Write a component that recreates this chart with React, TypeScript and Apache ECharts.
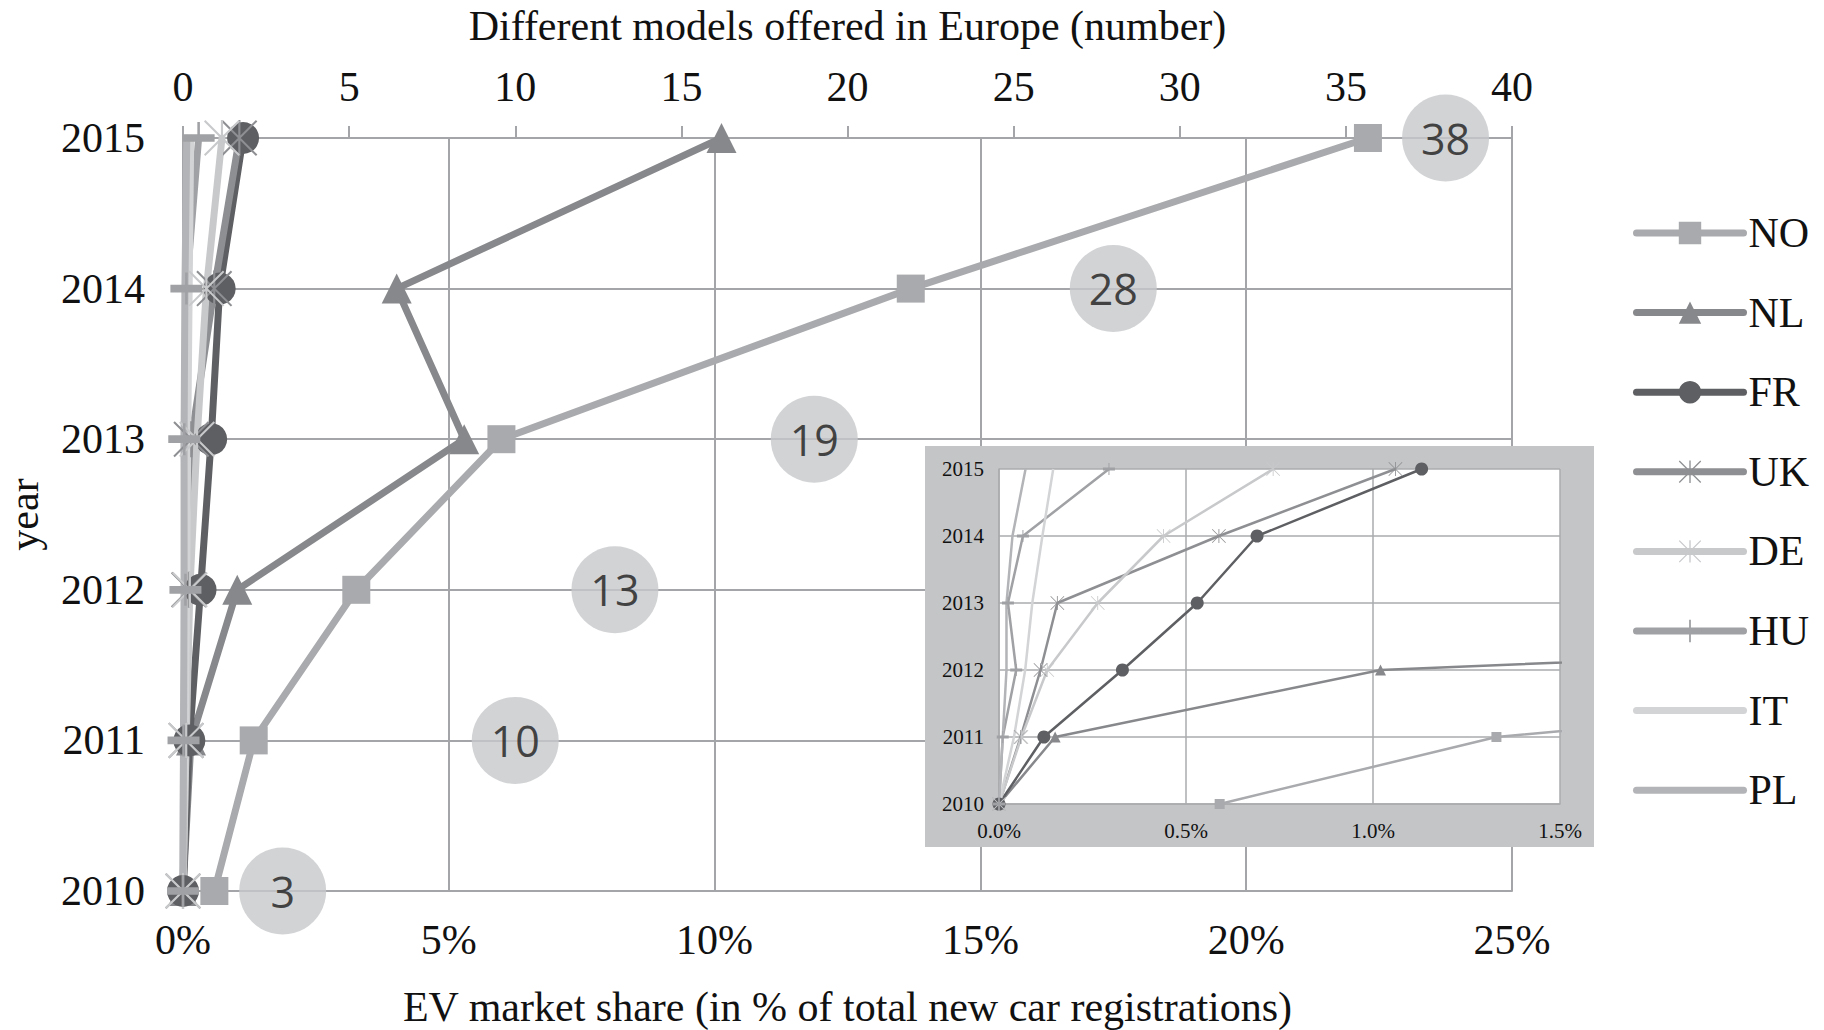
import React, { useEffect, useRef } from 'react';
import * as echarts from 'echarts';

const years = [2010, 2011, 2012, 2013, 2014, 2015];
const modelsOffered = [3, 10, 13, 19, 28, 38];
const shareNO = [0.59, 1.33, 3.26, 5.99, 13.69, 22.29];
const shareNL = [0.0, 0.15, 1.02, 5.29, 4.02, 10.13];
const shareFR = [0.0, 0.12, 0.33, 0.53, 0.69, 1.13];
const shareUK = [0.0, 0.058, 0.111, 0.156, 0.588, 1.06];
const shareDE = [0.0, 0.06, 0.129, 0.264, 0.44, 0.733];
const shareHU = [0.0, 0.01, 0.046, 0.024, 0.064, 0.294];
const shareIT = [0.0, 0.04, 0.07, 0.089, 0.116, 0.145];
const sharePL = [0.0, 0.01, 0.02, 0.02, 0.036, 0.071];

const ASTERISK = 'path://M0 4L4 0L100 96L96 100Z M96 0L100 4L4 100L0 96Z M47 0L53 0L53 100L47 100Z';
const PLUS = 'path://M46 0L54 0L54 38L100 38L100 62L54 62L54 100L46 100L46 62L0 62L0 38L46 38Z';

const serif = '"Liberation Serif", "Times New Roman", serif';
const gridColor = '#a4a5a8';
const insetGrid = '#aaabad';

const countries = [
  { name: 'NO', data: shareNO, color: '#a9aaad', symbol: 'rect', size: 28, insetSize: 10 },
  { name: 'NL', data: shareNL, color: '#87888b', symbol: 'triangle', size: 30, insetSize: 11 },
  { name: 'FR', data: shareFR, color: '#5e5f62', symbol: 'circle', size: 32, insetSize: 13 },
  { name: 'UK', data: shareUK, color: '#8e8f92', symbol: ASTERISK, size: 36, insetSize: 14 },
  { name: 'DE', data: shareDE, color: '#c8c9cb', symbol: ASTERISK, size: 36, insetSize: 14 },
  { name: 'HU', data: shareHU, color: '#a0a1a4', symbol: PLUS, size: 32, insetSize: 12 },
  { name: 'IT', data: shareIT, color: '#d3d4d6', symbol: 'none', size: 0, insetSize: 0 },
  { name: 'PL', data: sharePL, color: '#b3b4b7', symbol: 'none', size: 0, insetSize: 0 },
];

const toPoints = (vals: number[]) => years.map((y, i) => [vals[i], y]);

const mainSeries = countries.map((c) => ({
  name: c.name,
  type: 'line',
  xAxisIndex: 0,
  yAxisIndex: 0,
  data: toPoints(c.data),
  symbol: c.symbol,
  symbolSize: c.size,
  showSymbol: c.symbol !== 'none',
  lineStyle: { color: c.color, width: 7, cap: 'round', join: 'round' },
  itemStyle: { color: c.color },
  emphasis: { disabled: true },
  z: 3,
}));

const insetSeries = countries.map((c) => ({
  name: c.name,
  type: 'line',
  xAxisIndex: 2,
  yAxisIndex: 1,
  data: toPoints(c.data),
  symbol: c.symbol,
  symbolSize: c.insetSize,
  showSymbol: c.symbol !== 'none',
  lineStyle: { color: c.color, width: 2.5 },
  itemStyle: { color: c.color },
  emphasis: { disabled: true },
  clip: true,
  z: 53,
}));

const bubbleSeries = {
  name: 'models',
  type: 'scatter',
  xAxisIndex: 1,
  yAxisIndex: 0,
  data: years.map((y, i) => [modelsOffered[i], y]),
  symbolSize: 87,
  itemStyle: { color: '#c7c8ca' },
  label: {
    show: true,
    position: 'inside',
    formatter: (p: any) => String(p.value[0]),
    fontFamily: '"Open Sans", sans-serif',
    fontSize: 43,
    color: '#1a1a1a',
  },
  emphasis: { disabled: true },
  z: 2,
};

const mainLabel = { fontSize: 42, color: '#111', fontFamily: serif };

const option: any = {
  animation: false,
  backgroundColor: '#ffffff',
  textStyle: { fontFamily: serif },
  legend: {
    orient: 'vertical',
    left: 1628,
    top: 207,
    itemWidth: 107,
    itemHeight: 28,
    itemGap: 37.6,
    textStyle: { fontSize: 42, color: '#111', fontFamily: serif },
    lineStyle: { width: 7, cap: 'round' },
    data: countries.map((c) =>
      c.symbol === 'none' ? { name: c.name, itemStyle: { opacity: 0 } } : { name: c.name }
    ),
  },
  grid: [
    { left: 183, right: 312, top: 138, bottom: 139, outerBoundsMode: 'none', containLabel: false },
    {
      left: 999, top: 469, width: 561, height: 335, show: true, backgroundColor: '#ffffff', borderWidth: 0, z: 51,
      outerBoundsMode: 'none', containLabel: false,
    },
  ],
  graphic: [
    {
      type: 'rect',
      shape: { x: 925, y: 446, width: 669, height: 401 },
      style: { fill: '#c4c5c7' },
      z: 50,
      silent: true,
    },
  ],
  xAxis: [
    {
      gridIndex: 0,
      type: 'value',
      position: 'bottom',
      min: 0,
      max: 25,
      interval: 5,
      axisLabel: { ...mainLabel, formatter: (v: number) => v + '%', margin: 28 },
      axisLine: { show: true, lineStyle: { color: gridColor, width: 2 } },
      axisTick: { show: false },
      splitLine: { show: true, lineStyle: { color: gridColor, width: 2 } },
      name: 'EV market share (in % of total new car registrations)',
      nameLocation: 'middle',
      nameGap: 95,
      nameTextStyle: mainLabel,
    },
    {
      gridIndex: 0,
      type: 'value',
      position: 'top',
      min: 0,
      max: 40,
      interval: 5,
      axisLabel: { ...mainLabel, margin: 30 },
      axisLine: { show: true, lineStyle: { color: gridColor, width: 2 } },
      axisTick: { show: true, length: 12, lineStyle: { color: gridColor, width: 2 } },
      splitLine: { show: false },
      name: 'Different models offered in Europe (number)',
      nameLocation: 'middle',
      nameGap: 91,
      nameTextStyle: mainLabel,
    },
    {
      gridIndex: 1,
      type: 'value',
      min: 0,
      max: 1.5,
      interval: 0.5,
      axisLabel: { fontSize: 21, color: '#111', fontFamily: serif, margin: 16, formatter: (v: number) => v.toFixed(1) + '%' },
      axisLine: { show: true, lineStyle: { color: insetGrid, width: 1.5 } },
      axisTick: { show: false },
      splitLine: { show: true, lineStyle: { color: insetGrid, width: 1.5 } },
      z: 52,
    },
  ],
  yAxis: [
    {
      gridIndex: 0,
      type: 'value',
      min: 2010,
      max: 2015,
      interval: 1,
      axisLabel: { ...mainLabel, margin: 38, formatter: (v: number) => String(v) },
      axisLine: { show: true, lineStyle: { color: gridColor, width: 2 } },
      axisTick: { show: false },
      splitLine: { show: true, lineStyle: { color: gridColor, width: 2 } },
      name: 'year',
      nameLocation: 'middle',
      nameGap: 138,
      nameTextStyle: mainLabel,
    },
    {
      gridIndex: 1,
      type: 'value',
      min: 2010,
      max: 2015,
      interval: 1,
      axisLabel: { fontSize: 21, color: '#111', fontFamily: serif, margin: 15, formatter: (v: number) => String(v) },
      axisLine: { show: true, lineStyle: { color: insetGrid, width: 1.5 } },
      axisTick: { show: false },
      splitLine: { show: true, lineStyle: { color: insetGrid, width: 1.5 } },
      z: 52,
    },
  ],
  series: [bubbleSeries, ...mainSeries, ...insetSeries],
};

export default function App() {
  const ref = useRef<HTMLDivElement>(null);
  useEffect(() => {
    const chart = echarts.init(ref.current!, null, { renderer: 'svg' });
    chart.setOption(option);
    return () => chart.dispose();
  }, []);
  return (
    <div
      ref={ref}
      style={{ position: 'fixed', left: 0, top: 0, width: 1824, height: 1030, background: '#ffffff' }}
    />
  );
}
